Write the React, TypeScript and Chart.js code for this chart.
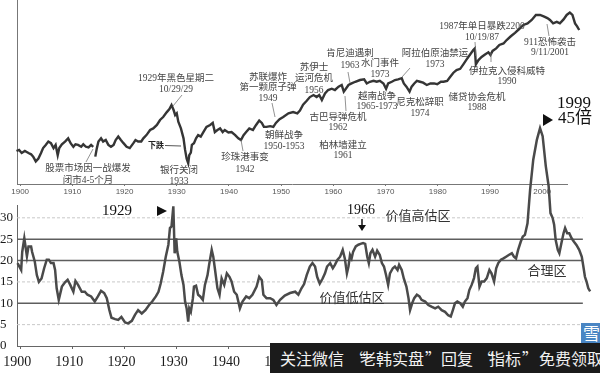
import React, { useEffect, useRef } from "react";
import { Chart, registerables } from "chart.js";

Chart.register(...registerables);

// ---------- data ----------
const axisYears = [1900, 1910, 1920, 1930, 1940, 1950, 1960, 1970, 1980, 1990, 2000];

// Stock index (top panel, log scale)
const dowYears = [
  1899.3, 1899.8, 1900.3, 1900.9, 1901.6, 1902.1, 1902.5, 1903.0, 1903.5, 1904.0, 1904.4, 1904.9, 1905.4, 1905.9, 1906.4, 1906.8, 1907.2, 1907.5, 1908.0, 1908.6, 1909.2, 1909.7,
  1910.2, 1910.6, 1911.1, 1911.7, 1912.1, 1912.6, 1913.1, 1913.6, 1914.0, 1914.2, 1914.4, 1914.7, 1915.0, 1915.5, 1915.9, 1916.4, 1916.9, 1917.4, 1917.9, 1918.3, 1918.8, 1919.3, 1919.8,
  1920.4, 1921.0, 1921.7, 1922.1, 1922.6, 1923.2, 1923.6, 1924.2, 1924.9, 1925.5, 1926.2, 1926.8, 1927.4, 1928.1, 1928.6, 1929.0, 1929.4, 1929.7,
  1930.0, 1930.3, 1930.8, 1931.3, 1931.6, 1931.9, 1932.2, 1932.4, 1932.7, 1932.9, 1933.3, 1933.7, 1934.1, 1934.6, 1935.1, 1935.7, 1936.4, 1936.9, 1937.3, 1937.8, 1938.3, 1938.8, 1939.2, 1939.9,
  1940.5, 1941.2, 1941.8, 1942.3, 1942.8, 1943.3, 1943.9, 1944.6, 1945.2, 1945.8, 1946.3, 1946.7, 1947.2, 1947.9, 1948.5, 1949.0, 1949.7,
  1950.4, 1951.4, 1952.3, 1953.1, 1953.6, 1954.2, 1954.9, 1955.5, 1956.2, 1956.8, 1957.3, 1957.8, 1958.4, 1959.0, 1959.7,
  1960.3, 1961.0, 1961.6, 1962.0, 1962.4, 1962.9, 1963.5, 1964.2, 1965.1, 1965.9, 1966.4, 1967.0, 1967.7, 1968.3, 1968.9, 1969.6,
  1970.1, 1970.5, 1971.2, 1971.8, 1972.4, 1973.1, 1973.5, 1974.0, 1974.6, 1975.0, 1975.5, 1976.0, 1976.6, 1977.2, 1977.9, 1978.6, 1979.3, 1979.9,
  1980.6, 1981.1, 1981.8, 1982.4, 1983.0, 1983.6, 1984.3, 1984.9, 1985.5, 1986.2, 1986.8, 1987.1, 1987.3, 1987.8, 1988.4, 1989.05, 1989.7,
  1990.1, 1990.5, 1991.2, 1991.8, 1992.6, 1993.2, 1994.0, 1994.8, 1995.6, 1996.4, 1997.2, 1998.0, 1998.8, 1999.6,
  2000.4, 2001.0, 2001.5, 2002.1, 2002.8, 2003.4, 2004.1, 2004.7, 2005.3, 2005.8, 2006.3, 2006.7, 2007.1,
];
const dowValues: (number | null)[] = [
  64, 67, 59, 64, 59, 56, 51, 42, 47, 59, 72, 82, 94, 88, 72, 82, 54, 72, 84, 94, 107, 87,
  76, 84, 82, 76, 84, 76, 74, 82, 76, null, 51, 72, 94, 107, 94, 100, 82, 76, 82, 100, 115, 100, 88,
  76, 72, 88, 100, 94, 94, 107, 122, 150, 160, 184, 225, 254, 310, 350, 413, 337, 275,
  295, 210, 160, 107, 67, 47, 39, 54, 60, 82, 88, 107, 122, 115, 138, 170, 184, 200, 138, 150, 160, 138, 150, 136,
  138, 122, 107, 100, 122, 138, 160, 150, 184, 220, 200, 170, 170, 175, 170, 200, 232,
  254, 295, 310, 295, 330, 420, 490, 570, 619, 570, 619, 506, 660, 759, 800,
  759, 870, 929, 710, 800, 929, 990, 1060, 1138, 1170, 990, 1060, 1100, 1060, 1100, 990,
  800, 990, 1060, 1138, 1170, 1225, 990, 870, 710, 870, 990, 1100, 1060, 1020, 929, 990, 990, 960,
  1060, 1060, 1100, 1300, 1530, 1706, 1790, 2150, 2600, 3200, 3846, 4100, 2150, 2559, 2900, 3200, 3500,
  3139, 3700, 4100, 4710, 5000, 5768, 6700, 7700, 9000, 10600, 11300, 12970, 15900, 15900,
  14900, 14000, 12970, 11300, 12000, 11300, 13300, 15900, 17500, 15900, 11300, 10000, 8650,
];

// P/E ratio (bottom panel)
const peYears = [
  1899.5, 1900.2, 1900.4, 1900.8, 1901.3, 1901.6, 1902.1, 1902.3, 1902.8, 1903.2, 1903.6, 1904.1, 1904.6, 1905.1, 1905.5, 1905.9, 1906.4, 1906.7, 1907.0, 1907.4, 1908.0, 1908.6, 1909.1, 1909.6,
  1910.2, 1910.6, 1911.1, 1911.8, 1912.4, 1912.9, 1913.6, 1914.3, 1914.9, 1915.5, 1916.1, 1916.6, 1917.1, 1917.5, 1918.2, 1918.8, 1919.4,
  1920.1, 1920.7, 1921.4, 1922.0, 1922.6, 1923.3, 1924.0, 1924.7, 1925.3, 1926.0, 1926.5, 1926.9, 1927.4, 1927.9, 1928.4, 1928.7, 1929.0, 1929.35, 1929.6, 1929.9,
  1930.1, 1930.5, 1930.9, 1931.3, 1931.6, 1931.9, 1932.2, 1932.4, 1932.7, 1933.1, 1933.3, 1933.7, 1934.1, 1934.5, 1935.0, 1935.4, 1935.9, 1936.2, 1936.7, 1937.0, 1937.3, 1937.8, 1938.2, 1938.6, 1939.1, 1939.6,
  1940.1, 1940.5, 1941.0, 1941.5, 1942.1, 1942.6, 1943.3, 1943.9, 1944.5, 1945.3, 1945.8, 1946.3, 1946.6, 1947.2, 1947.9, 1948.5, 1949.1, 1949.8,
  1950.7, 1951.7, 1952.7, 1953.3, 1953.9, 1954.4, 1954.9, 1955.5, 1956.0, 1956.5, 1956.9, 1957.4, 1957.95, 1958.4, 1958.8, 1959.4, 1959.9,
  1960.3, 1960.8, 1961.3, 1961.8, 1962.2, 1962.6, 1962.9, 1963.2, 1963.5, 1963.8, 1964.3, 1964.8, 1965.2, 1965.7, 1966.1, 1966.5, 1966.8, 1967.1, 1967.5, 1968.0, 1968.4, 1968.9, 1969.3, 1969.7,
  1970.1, 1970.5, 1970.85, 1971.4, 1971.8, 1972.3, 1972.6, 1973.1, 1973.5, 1974.0, 1974.4, 1974.7, 1975.1, 1975.5, 1976.0, 1976.5, 1976.9, 1977.6, 1978.2, 1978.8, 1979.5,
  1980.1, 1980.75, 1981.4, 1982.0, 1982.5, 1982.9, 1983.3, 1983.75, 1984.3, 1984.8, 1985.2, 1985.7, 1986.05, 1986.5, 1986.95, 1987.3, 1987.6, 1988.0, 1988.4, 1988.9, 1989.4, 1989.9,
  1990.3, 1990.8, 1991.2, 1991.6, 1992.1, 1992.6, 1993.1, 1993.6, 1994.2, 1994.6, 1995.0, 1995.4, 1995.9, 1996.3, 1996.7, 1997.2, 1997.7, 1998.3, 1999.0, 1999.6,
  2000.1, 2000.7, 2001.25, 2001.6, 2002.0, 2002.3, 2002.6, 2003.0, 2003.3, 2003.7, 2004.1, 2004.4, 2004.8, 2005.2, 2005.65, 2006.1, 2006.6, 2007.1, 2007.6, 2007.9, 2008.2, 2008.5, 2008.85, 2009.2,
];
const peValues = [
  19.4, 17.8, 22, 25.2, 21, 23.3, 23.3, 22, 19.8, 16.6, 15, 15.8, 18.2, 20.2, 20.2, 19.4, 19.4, 17.8, 13.5, 10.8, 13.9, 14.9, 15.5, 14.3,
  12.7, 15.2, 14.3, 12.7, 12.7, 12.0, 11.6, 10.4, 11.6, 12.9, 12.4, 11.2, 8.4, 6.6, 6.3, 6.1, 6.8,
  5.5, 5.3, 5.9, 7.3, 8.4, 7.6, 8.4, 9.6, 10.4, 11.6, 12.7, 14.5, 17.4, 20.9, 23.7, 27.6, 28.0, 32.7, 21.7, 25.2,
  22.1, 19.8, 16.6, 14.3, 10.4, 8.8, 5.7, 8.8, 8.0, 11.2, 13.9, 14.1, 12.0, 11.6, 10.8, 14.3, 16.6, 19.0, 22.5, 20.9, 18.2, 13.5, 12.0, 15.8, 14.3, 17.0,
  16.2, 15.1, 12.7, 12.0, 8.8, 10.4, 11.6, 11.2, 12.0, 13.9, 16.2, 15.4, 12.0, 11.2, 11.2, 10.8, 9.6, 10.8,
  11.8, 12.4, 12.7, 12.0, 13.5, 14.5, 16.6, 18.6, 19.4, 18.6, 16.2, 14.6, 15.8, 17.0, 18.6, 19.4, 18.2,
  19.0, 20.2, 20.9, 22.5, 20.5, 17.0, 18.6, 21.3, 20.5, 22.1, 23.3, 23.7, 23.9, 24.1, 23.9, 20.9, 19.4, 21.7, 22.5, 20.9, 22.3, 21.3, 19.4, 18.6,
  16.6, 14.3, 17.0, 18.2, 18.6, 17.8, 19.0, 17.8, 15.8, 13.9, 11.2, 8.4, 10.0, 11.2, 12.0, 11.6, 10.8, 10.4, 9.6, 9.2, 8.8,
  9.2, 8.4, 8.0, 7.2, 6.9, 8.4, 10.0, 10.4, 10.0, 9.2, 10.4, 11.2, 13.1, 14.3, 15.9, 18.2, 18.6, 13.9, 15.1, 15.1, 15.9, 17.8,
  17.0, 15.1, 18.2, 19.4, 20.2, 20.5, 20.9, 21.3, 21.7, 20.9, 20.5, 22.5, 24.4, 25.6, 26.0, 28.7, 36.6, 43.6, 48.3, 51.0,
  49.1, 42.1, 37.4, 31.1, 30.0, 28.4, 24.8, 22.5, 21.7, 24.1, 26.4, 27.6, 26.4, 26.4, 25.2, 24.4, 23.6, 22.5, 20.9, 18.6, 16.2, 15.1, 13.5, 12.8,
];

const peTickStep = 5;
const peTickMax = 30;
const solidLevels = [10, 20, 25];
const dashedLevels = [5, 15, 30];
const levelSpan = [1899.4, 2007.8];

// event annotations (top panel)
const eventNotes = [
  { lines: ["1929年黑色星期二", "10/29/29"], x: 176, y: 78, lh: 11 },
  { lines: ["苏联爆炸", "第一颗原子弹", "1949"], x: 268, y: 77, lh: 10.5 },
  { lines: ["朝鲜战争", "1950-1953"], x: 284, y: 135, lh: 11 },
  { lines: ["珍珠港事变", "1942"], x: 245, y: 157, lh: 12 },
  { lines: ["银行关闭", "1933"], x: 179, y: 170, lh: 11 },
  { lines: ["股票市场因一战爆发", "闭市4-5个月"], x: 88, y: 168, lh: 12 },
  { lines: ["苏伊士", "运河危机", "1956"], x: 314, y: 67, lh: 11.5 },
  { lines: ["肯尼迪遇刺", "1963"], x: 350, y: 53, lh: 12 },
  { lines: ["水门事件", "1973"], x: 380, y: 63, lh: 11 },
  { lines: ["阿拉伯原油禁运", "1973"], x: 435, y: 53, lh: 11 },
  { lines: ["1987年单日暴跌2200", "10/19/87"], x: 482, y: 26, lh: 11 },
  { lines: ["911恐怖袭击", "9/11/2001"], x: 550, y: 42, lh: 10.5 },
  { lines: ["伊拉克入侵科威特", "1990"], x: 507, y: 71, lh: 10.5 },
  { lines: ["储贷协会危机", "1988"], x: 477, y: 97, lh: 10.5 },
  { lines: ["尼克松辞职", "1974"], x: 420, y: 102, lh: 11 },
  { lines: ["越南战争", "1965-1973"], x: 377, y: 96, lh: 10.5 },
  { lines: ["古巴导弹危机", "1962"], x: 338, y: 117, lh: 10.5 },
  { lines: ["柏林墙建立", "1961"], x: 343, y: 145, lh: 10.5 },
];
const leaderLines = [
  [182, 95, 173, 106],
  [272, 103, 275, 117],
  [241, 140, 243, 151],
  [93, 149, 86, 162],
  [348, 72, 350, 83],
  [345, 96, 346, 111],
  [410, 68, 402, 77],
  [475, 42, 476, 56],
  [491, 53, 491, 62],
  [549, 36, 547, 24],
];

const SERIF_CJK = '"Liberation Serif", "Noto Sans CJK SC", serif';
const BOTTOM_TOP = 100;

const topNotesPlugin = {
  id: "topNotes",
  afterDraw(chart: any) {
    const ctx = chart.ctx as CanvasRenderingContext2D;
    ctx.save();
    ctx.strokeStyle = "#777";
    ctx.lineWidth = 0.8;
    for (const [x1, y1, x2, y2] of leaderLines) {
      ctx.beginPath();
      ctx.moveTo(x1, y1);
      ctx.lineTo(x2, y2);
      ctx.stroke();
    }
    ctx.fillStyle = "#444";
    ctx.textAlign = "center";
    ctx.textBaseline = "middle";
    ctx.font = `9.5px ${SERIF_CJK}`;
    for (const n of eventNotes) {
      n.lines.forEach((t, i) => ctx.fillText(t, n.x, n.y + i * n.lh));
    }
    // 下跌 marker
    ctx.fillStyle = "#222";
    ctx.font = `bold 8px "Noto Sans CJK SC", sans-serif`;
    ctx.fillText("下跌", 156, 145);
    ctx.strokeStyle = "#555";
    ctx.lineWidth = 1;
    ctx.beginPath();
    ctx.moveTo(165, 145.5);
    ctx.lineTo(181, 146);
    ctx.stroke();
    // 1999 45倍
    ctx.fillStyle = "#111";
    ctx.font = `17px ${SERIF_CJK}`;
    ctx.fillText("1999", 574, 104);
    ctx.fillText("45倍", 575, 119);
    ctx.beginPath();
    ctx.moveTo(543, 114);
    ctx.lineTo(553, 120);
    ctx.lineTo(543, 126);
    ctx.closePath();
    ctx.fill();
    ctx.restore();
  },
};

const bottomNotesPlugin = {
  id: "bottomNotes",
  afterDraw(chart: any) {
    const ctx = chart.ctx as CanvasRenderingContext2D;
    const oy = BOTTOM_TOP;
    ctx.save();
    ctx.textAlign = "center";
    ctx.textBaseline = "middle";
    ctx.fillStyle = "#111";
    ctx.font = `15px ${SERIF_CJK}`;
    ctx.fillText("1929", 117, 211 - oy);
    ctx.font = `14px ${SERIF_CJK}`;
    ctx.fillText("1966", 361, 210 - oy);
    // triangle 1929
    ctx.beginPath();
    ctx.moveTo(157, 206 - oy);
    ctx.lineTo(167, 211 - oy);
    ctx.lineTo(157, 216 - oy);
    ctx.closePath();
    ctx.fill();
    // arrow 1966
    ctx.strokeStyle = "#111";
    ctx.lineWidth = 1.5;
    ctx.beginPath();
    ctx.moveTo(362, 219 - oy);
    ctx.lineTo(362, 228 - oy);
    ctx.stroke();
    ctx.beginPath();
    ctx.moveTo(358, 225 - oy);
    ctx.lineTo(362, 231 - oy);
    ctx.lineTo(366, 225 - oy);
    ctx.closePath();
    ctx.fill();
    // zone labels
    ctx.fillStyle = "#333";
    ctx.font = `13px "Noto Sans CJK SC", sans-serif`;
    ctx.fillText("价值高估区", 418, 215 - oy);
    ctx.fillText("合理区", 547, 270 - oy);
    ctx.fillText("价值低估区", 352, 297 - oy);
    ctx.restore();
  },
};

// set the visible x range without declaring user bounds (so points past the edge are still drawn)
const fixRange = (lo: number, hi: number) => (s: any) => {
  s.min = lo;
  s.max = hi;
};

export default function App() {
  const topRef = useRef<HTMLCanvasElement>(null);
  const botRef = useRef<HTMLCanvasElement>(null);

  useEffect(() => {
    const top = new Chart(topRef.current as HTMLCanvasElement, {
      type: "line",
      data: {
        datasets: [
          {
            data: dowYears.map((x, i) => ({ x, y: dowValues[i] })) as any,
            borderColor: "#353535",
            borderWidth: 2.4,
            pointRadius: 0,
            spanGaps: false,
            tension: 0,
            clip: false as any,
          },
        ],
      },
      options: {
        animation: false,
        responsive: false,
        maintainAspectRatio: false,
        devicePixelRatio: 1,
        layout: { padding: { top: 0, right: 33, left: 0, bottom: 0 } },
        plugins: { legend: { display: false }, tooltip: { enabled: false } },
        scales: {
          x: {
            type: "linear",
            bounds: "data",
            afterDataLimits: fixRange(1899.4, 2004.76),
            afterBuildTicks: (s: any) => {
              s.ticks = axisYears.map((v) => ({ value: v }));
            },
            afterFit: (s: any) => {
              s.height = 16;
            },
            ticks: {
              autoSkip: false,
              maxRotation: 0,
              padding: 1,
              color: "#555",
              font: { size: 8, family: "Liberation Sans, Arial, sans-serif" },
              callback: (v: any) => String(v),
            },
            grid: { display: true, drawOnChartArea: false, drawTicks: true, tickLength: 2, color: "#777" },
            border: { display: true, color: "#777", width: 1 },
          },
          y: {
            type: "logarithmic",
            min: 16.8,
            max: 29170,
            afterFit: (s: any) => {
              s.width = 17;
            },
            ticks: { display: false },
            grid: { display: false },
            border: { display: true, color: "#777", width: 1 },
          },
        },
      } as any,
      plugins: [topNotesPlugin],
    });

    const levelDs = (levels: number[], dashed: boolean) =>
      levels.map((L) => ({
        data: levelSpan.map((x) => ({ x, y: L })),
        borderColor: dashed ? "#c8c8c8" : "#5e5e5e",
        borderWidth: dashed ? 1 : 1.5,
        borderDash: dashed ? [3, 2] : [],
        pointRadius: 0,
        order: dashed ? 3 : 2,
      }));

    const bottom = new Chart(botRef.current as HTMLCanvasElement, {
      type: "line",
      data: {
        datasets: [
          {
            data: peYears.map((x, i) => ({ x, y: peValues[i] })),
            borderColor: "#4a4a4a",
            borderWidth: 2.5,
            pointRadius: 0,
            tension: 0,
            order: 0,
            clip: false as any,
          },
          ...levelDs(solidLevels, false),
          ...levelDs(dashedLevels, true),
        ] as any,
      },
      options: {
        animation: false,
        responsive: false,
        maintainAspectRatio: false,
        devicePixelRatio: 1,
        layout: { padding: { top: 105, right: 17, left: 0, bottom: 0 } },
        plugins: { legend: { display: false }, tooltip: { enabled: false } },
        scales: {
          x: {
            type: "linear",
            bounds: "data",
            afterDataLimits: fixRange(1899.4, 2007.83),
            afterBuildTicks: (s: any) => {
              s.ticks = axisYears.map((v) => ({ value: v }));
            },
            afterFit: (s: any) => {
              s.height = 27;
            },
            ticks: {
              autoSkip: false,
              maxRotation: 0,
              padding: 5,
              labelOffset: -3,
              color: "#1a1a1a",
              font: { size: 14, family: "Liberation Serif, serif" },
              callback: (v: any) => String(v),
            },
            grid: { display: true, drawOnChartArea: false, drawTicks: true, tickLength: 3, color: "#666" },
            border: { display: true, color: "#666", width: 1 },
          },
          y: {
            type: "linear",
            min: 0,
            max: 33,
            afterFit: (s: any) => {
              s.width = 17;
            },
            ticks: {
              stepSize: peTickStep,
              includeBounds: false,
              crossAlign: "far",
              padding: 3,
              color: "#1a1a1a",
              font: { size: 13, family: "Liberation Serif, serif" },
              callback: (v: any) => (v <= peTickMax ? String(v) : ""),
            },
            grid: { display: false, drawTicks: false },
            border: { display: true, color: "#666", width: 1 },
          },
        },
      } as any,
      plugins: [bottomNotesPlugin],
    });

    return () => {
      top.destroy();
      bottom.destroy();
    };
  }, []);

  const wm = [
    { t: "关注微信", x: 280 },
    { t: "“", x: 350 },
    { t: "老韩实盘", x: 360 },
    { t: "”", x: 425 },
    { t: "回复", x: 441 },
    { t: "“", x: 478 },
    { t: "指标", x: 489 },
    { t: "”", x: 522 },
    { t: "免费领取", x: 539 },
  ];

  return (
    <div
      style={{
        position: "fixed",
        left: 0,
        top: 0,
        width: 600,
        height: 373,
        background: "#fff",
        overflow: "hidden",
      }}
    >
      <canvas
        ref={topRef}
        width={600}
        height={200}
        style={{ position: "absolute", left: 0, top: 0, width: 600, height: 200 }}
      />
      <canvas
        ref={botRef}
        width={600}
        height={273}
        style={{ position: "absolute", left: 0, top: BOTTOM_TOP, width: 600, height: 273 }}
      />
      <div
        style={{
          position: "absolute",
          left: 581,
          top: 323,
          width: 22,
          height: 20,
          background: "#4a86c4",
          overflow: "hidden",
          color: "#fff",
          fontFamily: '"Noto Sans CJK SC", sans-serif',
          fontSize: 17,
          lineHeight: "20px",
          paddingLeft: 2,
          boxSizing: "border-box",
        }}
      >
        雪
      </div>
      <div
        style={{
          position: "absolute",
          left: 270,
          top: 343,
          width: 330,
          height: 30,
          background: "#1b1b1b",
          overflow: "hidden",
        }}
      >
        {wm.map((s, i) => (
          <span
            key={i}
            style={{
              position: "absolute",
              left: s.x - 270,
              top: 0,
              lineHeight: "30px",
              fontSize: 16,
              color: "#f2f2f2",
              fontFamily: '"Noto Sans CJK SC", sans-serif',
              whiteSpace: "nowrap",
            }}
          >
            {s.t}
          </span>
        ))}
      </div>
    </div>
  );
}
